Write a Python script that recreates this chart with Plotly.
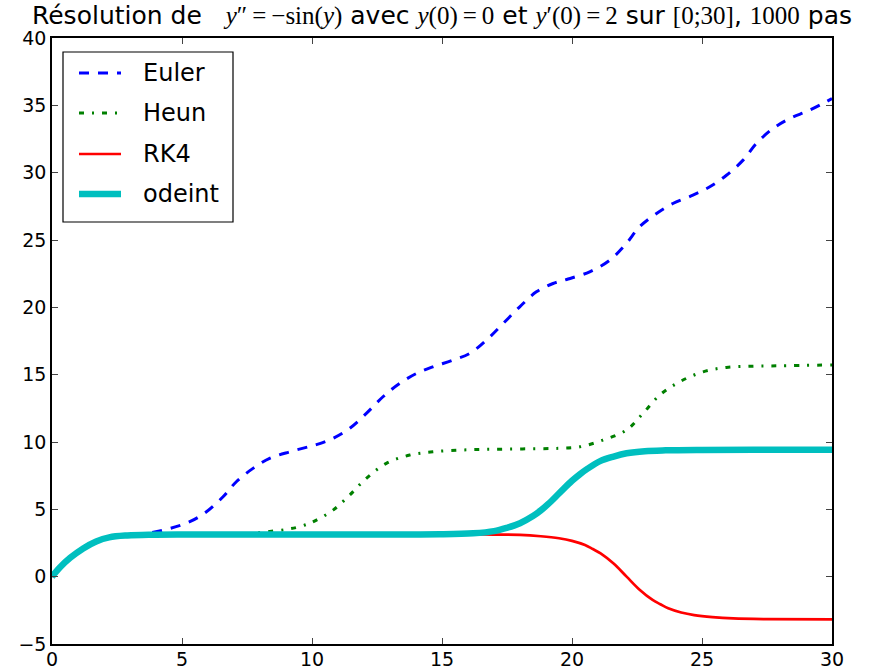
import plotly.graph_objects as go

# Numerical solutions of y'' = -sin(y), y(0)=0, y'(0)=2 on [0;30]
t_euler = [0, 0.3, 0.7, 1.2, 1.7, 2.2, 3.0, 3.76, 4.53, 5.3, 5.94, 6.58, 7.09, 7.73,
           8.37, 9.14, 9.78, 10.17, 10.81, 11.45, 12.09, 12.73, 13.37, 14.02, 14.65,
           15.42, 16.07, 16.71, 17.35, 17.99, 18.63, 19.27, 19.85, 20.68, 21.45, 22.09,
           22.6, 23.25, 23.88, 24.65, 25.3, 25.94, 26.58, 27.09, 27.73, 28.37, 29.14, 30]
y_euler = [0, 0.68, 1.4, 2.1, 2.62, 2.92, 3.1, 3.26, 3.58, 4.08, 4.82, 5.93, 7.05, 8.04,
           8.78, 9.27, 9.6, 9.8, 10.27, 11.01, 12.12, 13.36, 14.35, 15.09, 15.58,
           16.08, 16.58, 17.57, 18.8, 20.04, 21.15, 21.77, 22.1, 22.64, 23.5, 24.74,
           25.98, 26.97, 27.71, 28.33, 28.95, 29.81, 30.93, 32.17, 33.28, 34.02, 34.64, 35.5]

t_heun = [0, 0.3, 0.7, 1.2, 1.7, 2.2, 3.0, 3.8, 5, 6, 7, 7.6, 8.25, 9.02, 9.5, 9.91,
          10.17, 10.81, 11.45, 12.09, 12.86, 13.76, 14.65, 15.68, 16.58, 17.47, 18.5,
          19.5, 20.3, 21.19, 22.09, 22.73, 23.37, 24.14, 25.04, 25.94, 26.96, 27.98, 30]
y_heun = [0, 0.68, 1.4, 2.1, 2.62, 2.92, 3.08, 3.13, 3.14, 3.15, 3.17, 3.21, 3.33, 3.51,
          3.7, 3.96, 4.2, 4.94, 6.06, 7.3, 8.41, 9.03, 9.27, 9.4, 9.45, 9.47, 9.5,
          9.53, 9.64, 10.14, 10.88, 12.12, 13.48, 14.47, 15.21, 15.54, 15.63, 15.66, 15.72]

t_rk4 = [0, 0.3, 0.7, 1.2, 1.7, 2.2, 2.9, 3.8, 5, 8, 12, 15, 16.6, 18.0, 18.8, 19.5,
         20.0, 20.5, 20.8, 21.1, 21.6, 22.1, 22.6, 23.1, 23.4, 23.7, 24.2, 24.7, 25.4,
         26.2, 27.5, 30]
y_rk4 = [0, 0.68, 1.4, 2.1, 2.62, 2.92, 3.06, 3.12, 3.14, 3.14, 3.14, 3.14, 3.13, 3.1,
         3.0, 2.85, 2.66, 2.35, 2.05, 1.73, 0.97, 0.0, -0.97, -1.73, -2.05, -2.35,
         -2.66, -2.85, -3.0, -3.1, -3.15, -3.17]

t_odeint = [0, 0.3, 0.7, 1.2, 1.7, 2.2, 2.9, 3.8, 5, 7, 10, 13, 14.9, 16.2, 17.0, 17.5,
            18.0, 18.5, 18.8, 19.1, 19.55, 20.0, 20.3, 20.6, 21.1, 21.6, 22.1, 22.8,
            23.6, 25, 27, 30]
y_odeint = [0, 0.68, 1.4, 2.1, 2.62, 2.92, 3.06, 3.12, 3.14, 3.14, 3.14, 3.14, 3.15, 3.22,
            3.38, 3.63, 3.97, 4.5, 4.92, 5.42, 6.28, 7.12, 7.6, 8.02, 8.6, 8.92, 9.16,
            9.32, 9.38, 9.41, 9.42, 9.42]

x_ticks = [0, 5, 10, 15, 20, 25, 30]
y_ticks = [-5, 0, 5, 10, 15, 20, 25, 30, 35, 40]

series = [
    ("Euler", t_euler, y_euler, "#0000ff", 3.0, "10px,9px"),
    ("Heun", t_heun, y_heun, "#008000", 3.0, "5px,8px,2px,8px"),
    ("RK4", t_rk4, y_rk4, "#ff0000", 2.7, "solid"),
    ("odeint", t_odeint, y_odeint, "#00bfbf", 6.5, "solid"),
]

fig = go.Figure()
for name, t, y, color, width, dash in series:
    fig.add_trace(go.Scatter(
        x=t, y=y, name=name, mode="lines",
        line=dict(color=color, width=width, dash=dash, shape="spline", smoothing=1.0),
        showlegend=False,
    ))

# Legend box drawn in paper coordinates
W, H = 885, 670
L, R, T, B = 52, 53, 38, 26
pw, ph = W - L - R, H - T - B


def px(x):
    return (x - L) / pw


def py(y):
    return (H - B - y) / ph


shapes = [dict(type="rect", xref="paper", yref="paper",
               x0=px(63), x1=px(233), y0=py(222), y1=py(52),
               line=dict(color="black", width=1.2), fillcolor="white", layer="above")]
annotations = []
rows = [73, 113, 154, 194]
for (name, _, _, color, width, dash), ry in zip(series, rows):
    shapes.append(dict(type="line", xref="paper", yref="paper",
                       x0=px(79), x1=px(121), y0=py(ry), y1=py(ry),
                       line=dict(color=color, width=width, dash=dash), layer="above"))
    annotations.append(dict(xref="paper", yref="paper", x=px(141), y=py(ry),
                            xanchor="left", yanchor="middle", text=name, showarrow=False,
                            font=dict(family="DejaVu Sans", size=24, color="black")))


def m(s):
    return "<span style=\"font-family:'Liberation Serif'\">" + s + "</span>"


title = ("Résolution de\u00a0\u00a0 " + m("<i>y</i>\u2033\u2009=\u2009\u2212sin(<i>y</i>)")
         + " avec " + m("<i>y</i>(0)\u2009=\u20090") + " et "
         + m("<i>y</i>\u2032(0)\u2009=\u20092") + " sur " + m("[0;30]") + ", "
         + m("1000") + " pas")

axis_common = dict(
    showline=True, linecolor="black", linewidth=1.5, mirror="ticks",
    ticks="inside", ticklen=6, tickwidth=1, tickcolor="#444",
    showgrid=False, zeroline=False, automargin=False,
    tickfont=dict(family="DejaVu Sans", size=19, color="black"),
)

fig.update_layout(
    width=W, height=H,
    margin=dict(l=L, r=R, t=T, b=B),
    paper_bgcolor="white", plot_bgcolor="white",
    title=dict(text=title, x=0.5, xref="paper", xanchor="center",
               y=1 - 15 / H, yref="container", yanchor="middle",
               font=dict(family="DejaVu Sans", size=25, color="black")),
    xaxis=dict(range=[0, 30], tickvals=x_ticks, ticklabelstandoff=-3, **axis_common),
    yaxis=dict(range=[-5, 40], tickvals=y_ticks, **axis_common),
    shapes=shapes,
    annotations=annotations,
)

fig.write_html("out.html")
